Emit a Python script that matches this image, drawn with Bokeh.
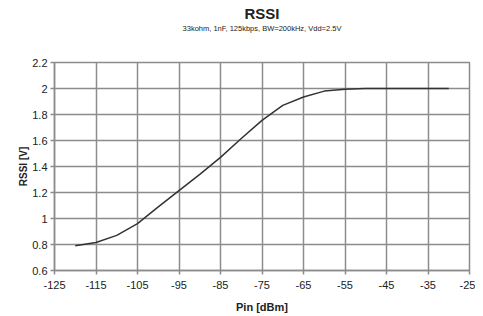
from bokeh.plotting import figure
from bokeh.models import Range1d, FixedTicker, Title, CustomJSTickFormatter
from bokeh.embed import file_html
from bokeh.resources import INLINE

pin = [-120, -115, -110, -105, -100, -95, -90, -85, -80, -75, -70, -65, -60, -55, -50, -45, -40, -35, -30]
rssi = [0.79, 0.815, 0.87, 0.96, 1.09, 1.215, 1.34, 1.47, 1.615, 1.755, 1.87, 1.935, 1.98, 1.995, 2.0, 2.0, 2.0, 2.0, 2.0]
x_ticks = [-125, -115, -105, -95, -85, -75, -65, -55, -45, -35, -25]
y_ticks = [0.6, 0.8, 1.0, 1.2, 1.4, 1.6, 1.8, 2.0, 2.2]

FONT = "Liberation Sans"
GRID = "#8c8c8c"
TXT = "#222222"

p = figure(frame_width=415, frame_height=208, output_backend="svg", toolbar_location=None,
           x_range=Range1d(-125, -25), y_range=Range1d(0.6, 2.2),
           min_border_left=54, min_border_right=6, min_border_bottom=46, min_border_top=62)
p.background_fill_color = "white"
p.border_fill_color = "white"
p.outline_line_color = GRID
p.outline_line_width = 1.5

# spacer between subtitle and plot frame
p.add_layout(Title(text=" ", text_font_size="1px", standoff=27), "above")
p.add_layout(Title(text="33kohm, 1nF, 125kbps, BW=200kHz, Vdd=2.5V", align="center",
                   text_font=FONT, text_font_size="7.5px", text_font_style="normal",
                   text_color=TXT, standoff=0), "above")
p.add_layout(Title(text="RSSI", align="center", text_font=FONT, text_font_size="15px",
                   text_font_style="bold", text_color=TXT, standoff=0), "above")

for ax in (p.xaxis, p.yaxis):
    ax.axis_line_color = GRID
    ax.axis_line_width = 1.5
    ax.major_tick_line_color = GRID
    ax.major_tick_line_width = 1.5
    ax.major_tick_in = 0
    ax.major_tick_out = 4
    ax.minor_tick_line_color = None
    ax.major_label_text_font = FONT
    ax.major_label_text_font_size = "11px"
    ax.major_label_text_color = TXT
    ax.axis_label_text_font = FONT
    ax.axis_label_text_font_style = "bold"
    ax.axis_label_text_color = TXT

p.xaxis.major_label_standoff = 6
p.xaxis.axis_label_standoff = 9
p.xaxis.axis_label_text_font_size = "11px"
p.yaxis.major_label_standoff = 3
p.yaxis.axis_label_standoff = 0
p.yaxis.axis_label_text_font_size = "10px"

p.xaxis.ticker = FixedTicker(ticks=x_ticks)
p.yaxis.ticker = FixedTicker(ticks=y_ticks)
p.yaxis.formatter = CustomJSTickFormatter(code="return String(Math.round(tick*10)/10);")
p.xaxis.formatter = CustomJSTickFormatter(code="return String(Math.round(tick));")
p.xaxis.axis_label = "Pin [dBm]"
p.yaxis.axis_label = "RSSI [V]"

p.xgrid.ticker = FixedTicker(ticks=x_ticks)
p.ygrid.ticker = FixedTicker(ticks=y_ticks)
for g in (p.xgrid, p.ygrid):
    g.grid_line_color = GRID
    g.grid_line_width = 1.5
    g.grid_line_alpha = 1.0

p.line(pin, rssi, line_color="#333333", line_width=1.5)

open("out.html", "w").write(file_html(p, INLINE))
